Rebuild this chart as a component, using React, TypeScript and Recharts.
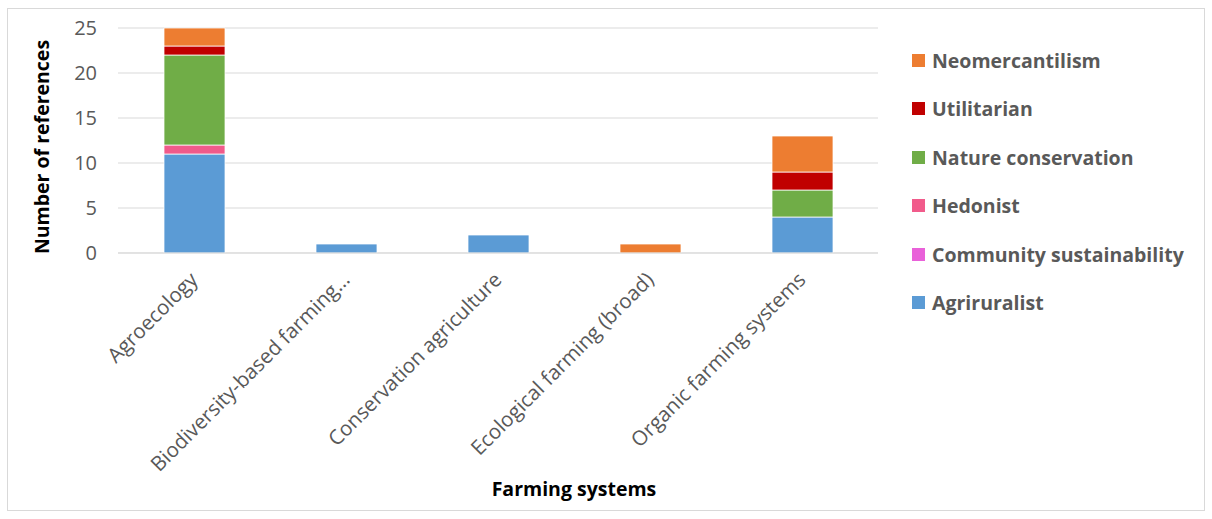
import { BarChart, Bar, XAxis, YAxis, CartesianGrid } from "recharts";

const categories = [
  "Agroecology",
  "Biodiversity-based farming…",
  "Conservation agriculture",
  "Ecological farming (broad)",
  "Organic farming systems",
];

const agriruralist = [11, 1, 2, 0, 4];
const communitySustainability = [0, 0, 0, 0, 0];
const hedonist = [1, 0, 0, 0, 0];
const natureConservation = [10, 0, 0, 0, 3];
const utilitarian = [1, 0, 0, 0, 2];
const neomercantilism = [2, 0, 0, 1, 4];

const yTicks = [0, 5, 10, 15, 20, 25];

const series = [
  { key: "agriruralist", name: "Agriruralist", color: "#5b9bd5", values: agriruralist },
  { key: "community", name: "Community sustainability", color: "#e961d9", values: communitySustainability },
  { key: "hedonist", name: "Hedonist", color: "#f15b8b", values: hedonist },
  { key: "nature", name: "Nature conservation", color: "#70ad47", values: natureConservation },
  { key: "utilitarian", name: "Utilitarian", color: "#c00000", values: utilitarian },
  { key: "neo", name: "Neomercantilism", color: "#ed7d31", values: neomercantilism },
];

const data = categories.map((name, i) => {
  const row: Record<string, string | number> = { name };
  series.forEach((s) => (row[s.key] = s.values[i]));
  return row;
});

const FONT = "'Open Sans', sans-serif";
const GREY = "#595959";

function XTick({ x, y, payload }: any) {
  const ax = x + 5;
  const ay = y + 20;
  return (
    <text
      x={ax}
      y={ay}
      transform={`rotate(-45, ${ax}, ${ay})`}
      textAnchor="end"
      fill={GREY}
      fontSize={20.5}
      fontFamily={FONT}
    >
      {payload.value}
    </text>
  );
}

// legend lists the series top-down in reverse stack order, like the stack itself
function LegendBox() {
  const items = [...series].reverse();
  return (
    <div style={{ position: "absolute", left: 912, top: 36, fontFamily: FONT }}>
      {items.map((s) => (
        <div
          key={s.key}
          style={{ display: "flex", alignItems: "center", height: 48.5, color: GREY, fontWeight: "bold", fontSize: 19.5 }}
        >
          <span style={{ width: 13, height: 13, background: s.color, marginRight: 7, display: "inline-block" }} />
          {s.name}
        </div>
      ))}
    </div>
  );
}

export default function App() {
  return (
    <div style={{ position: "absolute", left: 0, top: 0, width: 1212, height: 519, background: "#fff" }}>
      <div
        style={{
          position: "absolute",
          left: 7,
          top: 8,
          width: 1196,
          height: 501,
          border: "1px solid #d9d9d9",
        }}
      />
      <BarChart
        width={1212}
        height={519}
        data={data}
        margin={{ top: 28, right: 334, bottom: 66, left: 58 }}
        barSize={61}
        style={{ position: "absolute", left: 0, top: 0 }}
      >
        <CartesianGrid vertical={false} stroke="#d9d9d9" />
        <XAxis
          dataKey="name"
          height={200}
          interval={0}
          tick={<XTick />}
          tickLine={false}
          axisLine={{ stroke: "#d9d9d9" }}
          label={() => (
            <text
              x={574}
              y={496}
              textAnchor="middle"
              fontWeight="bold"
              fontSize={19.5}
              fontFamily={FONT}
              fill="#000"
            >
              Farming systems
            </text>
          )}
        />
        <YAxis
          width={60}
          domain={[0, 25]}
          ticks={yTicks}
          tickLine={false}
          axisLine={false}
          tickMargin={15}
          tick={{ fill: GREY, fontSize: 20, fontFamily: FONT }}
          label={() => (
            <text
              x={49}
              y={147}
              transform="rotate(-90, 49, 147)"
              textAnchor="middle"
              fontWeight="bold"
              fontSize={19.5}
              fontFamily={FONT}
              fill="#000"
            >
              Number of references
            </text>
          )}
        />
        {series.map((s) => (
          <Bar
            key={s.key}
            dataKey={s.key}
            name={s.name}
            stackId="a"
            fill={s.color}
            stroke="#ffffff"
            strokeWidth={0.75}
            isAnimationActive={false}
          />
        ))}
      </BarChart>
      <LegendBox />
    </div>
  );
}
